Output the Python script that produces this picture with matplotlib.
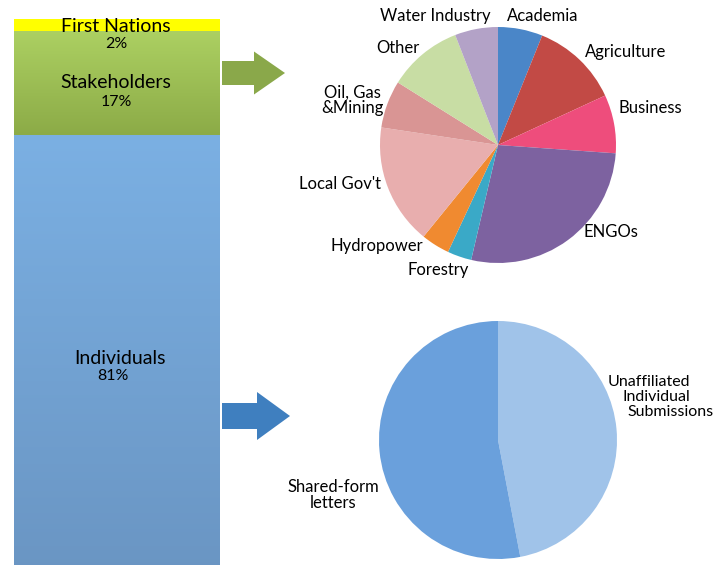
import numpy as np
import matplotlib.pyplot as plt
from matplotlib.patches import FancyArrow
from matplotlib.colors import LinearSegmentedColormap

plt.rcParams["font.family"] = ["Lato", "DejaVu Sans"]

# Stacked bar: share of submissions by group
groups = ["First Nations", "Stakeholders", "Individuals"]
group_share = [2, 17, 81]

# Stakeholder breakdown (clockwise from top)
stake_labels = ["Academia", "Agriculture", "Business", "ENGOs", "Forestry",
                "Hydropower", "Local Gov't", "Oil, Gas\n&Mining", "Other",
                "Water Industry"]
stake_share = [6.1, 12.0, 8.0, 27.5, 3.3, 3.9, 16.5, 6.5, 10.2, 5.9]

# Individual breakdown (clockwise from top)
indiv_labels = ["Unaffiliated\nIndividual\nSubmissions", "Shared-form\nletters"]
indiv_share = [47, 53]

W, H = 717, 565
fig = plt.figure(figsize=(W / 100, H / 100), dpi=100)

# ---- bar on the left ----
bar_top, bar_h = 19, 610
axb = fig.add_axes([14 / W, (H - bar_top - bar_h) / H, 206 / W, bar_h / H])
grad = [("#ffff00", "#ffff00"), ("#acd062", "#8cab47"), ("#7bb0e3", "#6892bf")]
bottoms = np.concatenate([[0], np.cumsum(group_share)[:-1]])
bars = axb.bar(0.5, group_share, bottom=bottoms, width=1.0,
               color=[g[0] for g in grad], edgecolor="none")
for rect, (c0, c1) in zip(bars, grad):
    y0 = rect.get_y()
    y1 = y0 + rect.get_height()
    cmap = LinearSegmentedColormap.from_list("g", [c0, c1])
    img = axb.imshow(np.linspace(0, 1, 256).reshape(-1, 1), cmap=cmap,
                     extent=[0, 1, y1, y0], aspect="auto", zorder=2)
    img.set_clip_path(rect)
axb.set_xlim(0, 1)
axb.set_ylim(100, 0)
axb.axis("off")

# ---- overlay in pixel coordinates ----
ax = fig.add_axes([0, 0, 1, 1])

# bar labels
ax.text(116, 27, groups[0], ha="center", va="center", fontsize=14)
ax.text(116, 44, f"{group_share[0]}%", ha="center", va="center", fontsize=11.5)
ax.text(116, 82, groups[1], ha="center", va="center", fontsize=14)
ax.text(116, 102, f"{group_share[1]}%", ha="center", va="center", fontsize=11.5)
ax.text(120, 358, groups[2], ha="center", va="center", fontsize=14)
ax.text(113, 376, f"{group_share[2]}%", ha="center", va="center", fontsize=11.5)

# arrows
ax.add_patch(FancyArrow(222, 73, 63, 0, width=24, head_width=43, head_length=31,
                        length_includes_head=True, color="#8aa84a", lw=0))
ax.add_patch(FancyArrow(222, 416, 68, 0, width=26, head_width=48, head_length=33,
                        length_includes_head=True, color="#3f7fbf", lw=0))

# ---- pies ----
stake_colors = ["#4a86c8", "#c24a45", "#ee4d7c", "#7d62a0", "#3aa9c7",
                "#f08a30", "#e8aeae", "#d99594", "#c8dda4", "#b3a2c7"]
# y axis is inverted, so counterclock=True draws clockwise on screen
ax.pie(stake_share, colors=stake_colors, startangle=-90, counterclock=True,
       center=(498, 145), radius=118, frame=True,
       wedgeprops=dict(linewidth=0))
indiv_colors = ["#a0c3e9", "#6aa0dc"]
ax.pie(indiv_share, colors=indiv_colors, startangle=-90, counterclock=True,
       center=(498, 440), radius=119, frame=True,
       wedgeprops=dict(linewidth=0))
ax.set_xlim(0, W)
ax.set_ylim(H, 0)
ax.set_aspect("auto")
ax.axis("off")

stake_pos = [(543, 16), (626, 52), (650, 108), (611, 232), (438, 270),
             (377, 246), (340, 184), (352, 100), (398, 48), (435, 16)]
for lab, (x, y) in zip(stake_labels, stake_pos):
    ax.text(x, y, lab, ha="center", va="center", fontsize=12,
            linespacing=0.95)

# the three lines of the first label are staggered in the reference
for line, (x, y) in zip(indiv_labels[0].split("\n"),
                        [(649, 382), (656, 397), (671, 412)]):
    ax.text(x, y, line, ha="center", va="center", fontsize=11.5)
ax.text(333, 495, indiv_labels[1], ha="center", va="center", fontsize=12,
        linespacing=0.95)

fig.savefig("out.png", dpi=100)
